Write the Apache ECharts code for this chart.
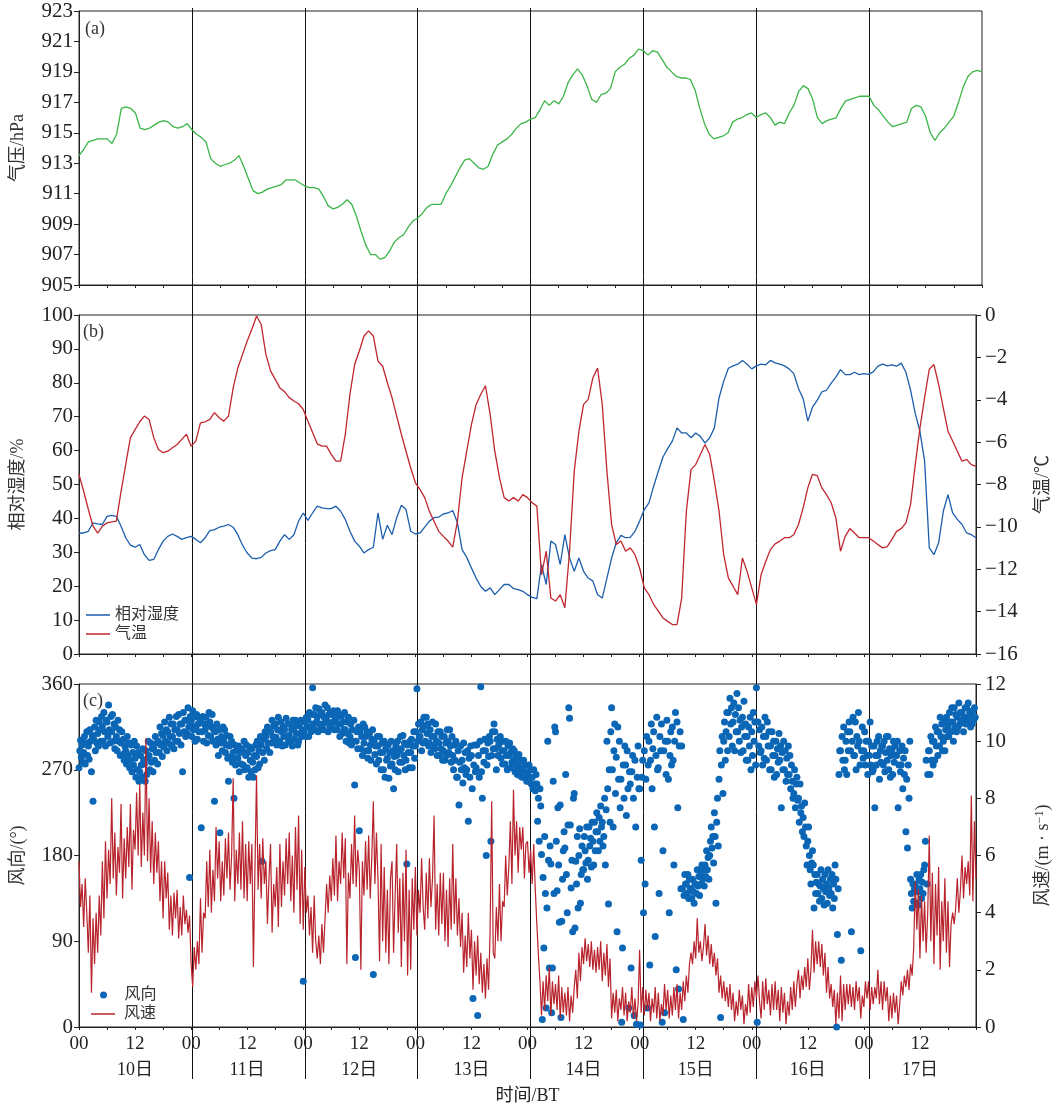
<!DOCTYPE html>
<html>
<head>
<meta charset="utf-8">
<script src="https://cdn.jsdelivr.net/npm/echarts@6/dist/echarts.min.js"></script>
<style>
html,body{margin:0;padding:0;background:#fff;}
#chart{width:1060px;height:1107px;}
</style>
</head>
<body>
<div id="chart"></div>
<script>
// hourly pressure (hPa), hour 0 of 10th to hour 0 of 18th
const pressure = [
913.5,913.9,914.4,914.5,914.6,914.6,914.6,914.3,914.9,916.6,916.7,916.6,916.3,915.3,915.2,915.3,915.5,915.7,915.8,915.7,915.4,915.3,915.4,915.6,
915.2,914.9,914.7,914.4,913.3,913.0,912.8,912.9,913.0,913.2,913.5,912.8,912.0,911.2,911.0,911.1,911.3,911.4,911.5,911.6,911.9,911.9,911.9,911.7,
911.5,911.4,911.4,911.3,910.8,910.2,910.0,910.1,910.3,910.6,910.3,909.5,908.5,907.6,907.0,907.0,906.7,906.8,907.2,907.8,908.1,908.3,908.8,909.2,
909.4,909.7,910.1,910.3,910.3,910.3,911.0,911.5,912.1,912.7,913.2,913.3,913.0,912.7,912.6,912.8,913.6,914.2,914.4,914.6,914.9,915.3,915.6,915.7,
915.9,916.0,916.5,917.1,916.8,917.1,916.9,917.4,918.3,918.8,919.2,918.8,918.1,917.2,917.0,917.5,917.6,917.9,919.0,919.3,919.5,919.9,920.1,920.5,
920.4,920.1,920.4,920.3,919.8,919.3,919.0,918.7,918.6,918.6,918.5,917.8,916.6,915.6,914.9,914.6,914.7,914.8,915.0,915.7,915.9,916.0,916.2,916.3,
916.0,916.2,916.3,916.0,915.5,915.7,915.6,916.3,916.8,917.7,918.1,917.9,917.2,916.0,915.6,915.8,915.9,916.0,916.6,917.1,917.2,917.3,917.4,917.4,
917.4,916.8,916.5,916.1,915.7,915.4,915.5,915.6,915.7,916.6,916.8,916.7,916.1,915.0,914.5,915.0,915.3,915.7,916.1,917.0,918.0,918.7,919.0,919.1,
919.0
];
// hourly relative humidity (%)
const humidity = [
35.7,35.7,36.2,38.7,38.4,38.2,40.6,40.9,40.6,37.7,34.3,32.1,31.5,32.3,29.3,27.6,27.9,30.8,33.3,34.7,35.4,34.7,33.8,34.3,
34.7,33.8,32.8,34.3,36.4,36.7,37.4,37.7,38.2,37.4,35.2,32.1,29.8,28.3,28.1,28.5,29.8,30.5,30.8,33.3,35.2,33.8,35.2,39.2,
41.6,39.4,41.6,43.6,43.1,42.9,42.9,43.6,42.1,39.7,36.2,33.3,31.8,29.8,30.8,31.5,41.6,33.8,38.0,35.2,40.2,43.9,42.6,36.2,
35.4,35.7,37.4,39.2,40.2,40.4,41.3,41.6,42.3,38.7,30.8,28.5,25.4,22.4,19.9,18.5,19.5,17.5,19.0,20.5,20.5,19.3,19.0,18.5,
17.5,16.7,16.3,26.4,20.5,33.3,32.3,26.4,35.2,28.3,24.4,28.3,24.4,22.4,21.5,17.5,16.5,22.4,28.3,32.8,35.0,34.3,34.4,36.2,
39.2,42.6,44.6,49.5,53.9,58.1,60.6,62.8,66.7,65.2,65.2,63.8,65.2,64.2,62.2,63.8,66.7,75.6,80.5,84.3,85.0,85.5,86.6,85.5,
84.1,85.0,85.5,85.3,86.6,85.9,85.5,85.0,84.1,82.7,78.3,75.3,68.7,72.8,74.8,77.3,77.8,79.9,81.7,83.9,82.4,82.4,83.1,82.4,
82.7,82.5,83.2,84.9,85.5,85.0,85.3,84.9,85.8,83.1,77.8,70.9,65.7,56.9,31.3,29.3,32.8,42.1,47.0,41.6,39.7,38.2,35.7,35.2,
34.3
];
// hourly air temperature (°C)
const temperature = [
-7.52,-8.32,-9.18,-9.97,-10.29,-9.97,-9.81,-9.76,-9.73,-8.32,-7.06,-5.79,-5.41,-5.04,-4.77,-4.93,-5.79,-6.35,-6.50,-6.43,-6.27,-6.11,-5.87,-5.63,
-6.19,-5.95,-5.09,-5.04,-4.93,-4.61,-4.85,-5.01,-4.77,-3.44,-2.50,-1.86,-1.23,-0.67,-0.05,-0.45,-1.86,-2.64,-3.04,-3.44,-3.62,-3.90,-4.06,-4.19,
-4.46,-5.01,-5.55,-6.08,-6.19,-6.19,-6.58,-6.90,-6.90,-5.63,-3.74,-2.34,-1.70,-0.99,-0.75,-0.99,-2.18,-2.42,-3.20,-3.90,-4.77,-5.63,-6.43,-7.22,
-7.92,-8.24,-8.62,-9.26,-9.73,-10.21,-10.45,-10.67,-10.96,-9.73,-7.68,-6.43,-5.17,-4.22,-3.74,-3.34,-4.69,-6.43,-7.68,-8.62,-8.78,-8.62,-8.78,-8.48,
-8.62,-8.86,-9.02,-12.26,-11.15,-13.36,-13.50,-13.20,-13.82,-11.15,-7.38,-5.49,-4.22,-3.98,-2.96,-2.50,-4.22,-7.38,-9.89,-10.83,-10.67,-11.15,-10.99,-11.31,
-11.94,-12.88,-13.20,-13.66,-13.98,-14.30,-14.46,-14.61,-14.61,-13.36,-9.26,-7.30,-7.06,-6.58,-6.11,-6.58,-7.84,-9.26,-11.31,-12.42,-12.80,-13.20,-11.47,-12.10,
-12.88,-13.66,-12.26,-11.62,-11.07,-10.80,-10.67,-10.51,-10.51,-10.37,-9.89,-9.10,-8.16,-7.52,-7.58,-8.16,-8.48,-8.86,-9.57,-11.15,-10.45,-10.08,-10.29,-10.51,
-10.51,-10.51,-10.67,-10.83,-10.99,-10.93,-10.59,-10.21,-10.08,-9.81,-8.94,-7.06,-5.33,-3.90,-2.56,-2.34,-3.28,-4.38,-5.49,-5.95,-6.43,-6.90,-6.82,-7.06,
-7.14
];
// wind direction (deg), six readings per hour (10-minute)
const windDir = [
272,290,301,283,296,278, 288,305,276,298,310,285, 295,281,312,300,268,306, 237,302,315,290,322,298, 308,295,320,312,300,326, 316,300,330,310,295,322,
320,305,338,312,298,326, 310,328,300,318,292,315, 305,290,322,300,312,285, 298,310,286,302,280,295, 290,276,305,285,298,272, 280,296,268,288,275,300,
282,262,295,270,288,258, 268,285,275,262,292,280, 276,258,290,265,282,300, 285,270,298,278,292,268, 292,280,305,288,298,276, 300,288,315,296,308,284,
306,294,320,300,312,290, 310,298,325,305,318,295, 305,318,292,312,300,326, 312,300,328,308,318,296, 318,268,330,310,322,305, 322,308,335,315,157,326,
320,305,332,312,325,300, 315,328,302,318,310,325, 322,209,310,326,300,318, 312,325,298,318,306,330, 320,305,315,328,300,312, 237,310,296,318,302,285,
312,204,298,305,290,315, 300,312,288,296,306,282, 258,295,305,284,300,278, 288,240,296,275,290,282, 282,295,268,288,276,292, 290,275,300,270,285,296,
272,288,262,294,280,268, 292,278,262,285,270,296, 284,300,272,290,276,305, 296,174,288,302,280,310, 305,292,315,298,310,288, 310,298,322,305,316,300,
318,304,296,312,325,300, 300,320,310,295,315,305, 312,296,324,305,318,300, 306,318,300,312,295,322, 314,302,322,308,318,296, 300,316,308,322,305,312,
48,310,320,305,325,315, 322,305,330,315,310,328, 356,318,328,312,335,320, 325,310,334,318,328,315, 330,318,312,325,338,320, 322,335,310,328,316,330,
316,328,320,332,312,325, 324,312,332,318,328,305, 318,326,308,320,312,330, 312,300,320,308,325,298, 305,318,296,312,300,322, 254,73,300,310,292,315,
206,310,292,305,285,318, 298,315,305,290,310,282, 290,308,296,280,302,312, 55,300,286,295,276,305, 295,280,305,288,270,298, 288,270,300,262,292,280,
282,296,261,288,274,300, 276,290,250,284,270,295, 285,300,268,290,278,305, 292,278,306,285,298,270, 280,171,296,288,272,300, 288,302,272,295,310,282,
295,310,355,300,318,305, 305,320,290,312,298,325, 316,300,325,308,318,295, 298,312,288,305,320,295, 305,292,318,300,285,310, 298,285,310,292,305,280,
290,305,280,298,285,312, 300,288,312,295,278,305, 285,270,296,280,300,262, 262,290,233,278,295,270, 280,256,298,272,288,265, 270,290,216,282,262,295,
285,250,30,275,296,268, 272,296,12,285,262,300, 357,268,240,290,278,302, 290,180,275,298,284,305, 300,195,285,310,292,318, 310,292,270,302,285,296,
298,305,282,290,276,300, 290,276,300,285,270,295, 285,298,272,288,278,292, 280,290,268,284,274,265, 276,286,264,280,270,262, 272,280,262,275,266,258,
268,258,275,262,270,255, 262,250,270,255,248,265, 255,216,240,195,250,232, 181,8,157,83,200,140, 20,125,300,175,62,190, 171,15,62,258,140,315,
310,195,143,230,170,110, 233,10,111,155,185,205, 188,265,160,120,212,335, 324,212,146,175,100,240, 245,104,174,150,200,125, 180,208,130,160,190,165,
165,200,185,172,210,155, 175,210,190,198,168,215, 195,170,215,185,205,225, 205,185,220,195,232,210, 215,190,200,240,170,228, 300,250,129,270,215,310,
335,270,210,290,318,245, 283,100,315,260,300,230, 260,5,83,275,240,295, 275,222,290,250,20,268, 255,62,268,285,240,12, 280,210,3,262,295,250,
250,2,175,262,280,120, 290,150,260,305,20,275, 300,65,280,318,250,292, 310,210,95,285,325,270, 272,140,305,290,318,5, 185,290,15,300,265,322,
300,260,120,285,310,275, 315,280,170,300,330,60, 320,230,40,295,310,145, 295,145,8,138,160,150, 150,140,160,135,155,145, 145,135,155,142,130,150,
150,140,165,148,158,138, 160,150,170,155,165,148, 170,158,185,165,178,155, 180,195,210,188,200,172, 225,200,130,215,240,190, 260,290,10,275,305,245,
300,320,280,310,330,290, 330,305,345,318,335,295, 320,340,290,328,310,350, 310,335,300,322,288,315, 325,290,342,305,318,280, 305,280,315,295,325,270,
310,285,330,300,320,275, 356,5,320,295,312,288, 290,315,275,305,282,325, 305,280,320,295,310,270, 295,270,310,285,300,262, 285,300,265,292,278,308,
280,295,230,288,270,300, 270,290,258,282,265,295, 265,285,250,275,258,240, 245,270,230,255,262,238, 240,215,255,225,232,205, 220,200,235,210,190,170,
195,210,180,165,150,172, 185,170,125,160,140,152, 160,140,150,132,148,165, 135,155,145,128,160,142, 150,130,165,145,138,155, 140,160,125,150,135,170,
155,0,97,145,265,290, 290,70,305,280,315,270, 280,300,265,310,290,320, 310,290,100,300,325,285, 285,320,270,305,295,330, 300,275,80,290,315,282,
290,310,275,300,285,265, 300,285,320,275,295,268, 270,295,230,285,275,300, 285,305,260,290,278,295, 295,275,300,268,288,305, 280,305,270,292,262,285,
290,265,300,278,295,285, 285,300,230,275,290,268, 275,295,250,282,265,290, 205,260,188,275,240,300, 155,140,125,150,132,145, 150,130,160,142,128,155,
145,160,135,152,140,165, 170,195,280,150,265,290, 290,265,305,280,300,275, 300,280,315,295,310,285, 310,295,325,305,318,290, 300,320,290,312,325,305,
315,305,330,320,310,335, 320,300,335,315,328,310, 325,315,340,318,330,322, 330,320,310,325,335,318, 335,325,340,322,330,315, 328,318,332,322,335,325
];
// wind speed (m/s), three readings per hour, last value at hour 192
const windSpeed = [
5.8,4.2,5.0, 3.5,5.2,4.0, 2.6,4.6,1.2, 3.8,2.2,4.0, 2.6,4.6,3.2, 5.8,3.8,6.5, 4.5,6.2,5.0, 8.0,5.2,6.8, 4.6,6.3,5.4, 7.8,4.5,6.6, 5.2,7.0,5.6, 7.8,4.8,6.9,
6.2,8.2,6.0, 8.5,5.6,7.5, 6.0,10.1,5.8, 8.0,5.4,7.2, 5.0,6.8,5.4, 6.5,4.4,5.8, 3.8,5.8,4.5, 5.4,3.4,4.6, 3.2,4.7,3.8, 4.8,3.1,4.2, 3.2,4.6,3.6, 4.1,3.3,3.9,
2.2,1.4,2.8, 2.0,3.0,2.2, 4.5,2.6,4.0, 3.8,5.8,4.2, 6.2,4.0,5.5, 4.4,7.0,5.2, 6.5,4.4,5.8, 4.6,6.6,5.2, 6.8,4.8,6.0, 8.7,4.4,6.2, 5.0,6.8,4.8, 7.2,4.5,6.4,
4.4,6.5,5.0, 6.4,2.1,5.6, 8.8,4.8,6.4, 4.5,6.6,5.0, 5.8,3.6,5.2, 6.4,3.3,5.0, 4.2,5.6,3.5, 6.4,4.2,5.8, 4.6,6.6,5.0, 6.8,4.4,6.0, 4.0,7.0,4.8, 7.4,3.6,6.2,
3.4,5.6,4.0, 4.6,3.2,4.2, 2.6,4.6,3.0, 2.4,3.2,2.2, 3.6,2.6,3.8, 5.0,4.0,5.3, 4.4,5.9,4.6, 6.7,4.4,5.8, 5.0,6.8,5.2, 6.6,2.2,5.4, 4.5,6.4,5.0, 7.4,4.9,6.2,
5.5,2.0,5.8, 4.6,6.5,4.8, 6.7,4.5,5.9, 7.9,5.0,6.8, 5.2,2.3,6.4, 3.0,5.6,2.6, 4.8,2.2,5.2, 5.8,2.6,4.6, 6.4,3.3,5.2, 2.1,5.4,3.0, 6.2,1.8,4.8, 2.0,5.2,3.4,
5.6,3.2,4.8, 4.0,5.9,4.2, 3.4,5.4,3.8, 5.9,4.2,5.2, 7.4,3.4,5.0, 3.2,5.4,3.6, 5.4,3.0,4.8, 2.8,5.2,3.4, 6.4,3.6,5.2, 3.2,4.5,2.8, 4.0,1.9,3.2, 2.1,4.0,2.4,
3.4,1.3,3.0, 1.8,3.2,1.5, 2.6,1.2,2.2, 1.0,2.4,1.3, 3.4,7.9,2.6, 2.4,4.2,3.0, 5.0,3.0,4.4, 4.2,6.0,4.6, 5.6,7.2,5.0, 8.3,6.0,7.2, 5.4,7.0,6.2, 7.0,5.2,6.4,
6.5,5.4,6.2, 5.0,6.4,4.8, 3.6,2.5,1.6, 0.4,1.6,0.6, 1.8,0.9,2.1, 0.4,1.6,0.8, 1.5,0.6,1.8, 0.3,1.4,0.5, 1.2,0.4,1.4, 0.2,1.1,0.5, 1.4,2.0,1.0, 2.6,1.6,2.8,
2.2,3.1,2.3, 2.9,2.1,3.0, 2.0,2.7,1.9, 2.8,2.0,3.0, 1.6,2.6,1.8, 2.9,1.4,2.4, 0.3,1.2,0.5, 1.3,0.2,1.0, 0.6,1.4,0.4, 1.2,0.2,0.9, 0.5,1.4,0.3, 1.0,0.2,0.8,
2.7,0.5,1.4, 0.4,1.3,0.6, 1.2,0.2,1.0, 0.5,1.4,0.3, 1.2,0.2,0.8, 0.4,1.5,0.6, 1.3,0.3,1.1, 0.4,1.4,0.6, 1.5,0.3,1.2, 0.6,1.6,0.9, 1.8,1.2,2.2, 2.6,2.2,3.0,
2.4,3.8,2.6, 3.0,2.3,2.8, 3.6,2.5,3.2, 2.2,2.9,2.1, 2.6,1.8,2.4, 1.2,1.8,1.0, 1.6,0.9,1.4, 0.7,1.5,0.6, 1.2,0.2,0.9, 0.4,1.3,0.6, 1.1,0.1,0.8, 0.4,1.5,0.5,
1.4,0.7,1.6, 1.0,1.8,0.9, 0.3,1.6,0.6, 1.7,0.8,1.3, 0.4,1.5,0.6, 1.6,0.6,1.3, 0.2,1.4,0.5, 1.2,0.1,0.9, 0.4,1.4,0.6, 1.6,0.7,1.5, 2.0,1.0,1.8, 1.3,2.1,1.4,
2.4,1.3,2.0, 3.4,1.9,3.0, 2.2,3.0,2.1, 2.9,1.8,2.6, 1.2,2.1,1.0, 1.5,0.7,1.3, 0.1,1.2,0.3, 1.8,0.2,1.5, 0.6,1.5,0.8, 1.5,0.7,1.4, 0.6,1.6,0.9, 1.4,0.3,1.1,
0.7,1.6,1.0, 1.6,0.6,1.4, 0.8,1.4,1.0, 2.0,0.8,1.6, 0.6,1.6,0.9, 1.4,0.2,1.1, 0.3,1.2,0.5, 1.1,0.1,0.8, 1.6,1.1,1.8, 1.4,2.0,1.3, 2.2,1.8,2.8, 5.1,3.4,4.8,
2.4,4.6,3.0, 4.4,2.6,4.0, 6.7,3.0,5.4, 2.2,5.0,3.2, 5.6,2.0,4.4, 3.0,5.2,2.6, 4.4,2.1,3.6, 4.0,3.6,4.2, 5.2,4.0,4.8, 6.0,4.5,5.6, 5.0,5.8,4.6, 8.1,4.4,7.2,
5.2
];
const dayNames = ['10日','11日','12日','13日','14日','15日','16日','17日'];
const hourTickNames = ['00','12'];

const SERIF = "'Liberation Serif','Noto Sans CJK SC',serif";
const INK = '#222';

const hourly = arr => arr.map((v, i) => [i, v]);
const perHour = (arr, n) => arr.map((v, i) => [i / n, v]);

const GL = 79, GR = 78;
const grids = [
  {left: GL, right: GR, top: 11, height: 274},
  {left: GL, right: GR, top: 315, height: 339},
  {left: GL, right: GR, top: 684, height: 343},
  {left: GL, right: GR, top: 8, bottom: 28}
].map(g => Object.assign({show: true, borderColor: INK, borderWidth: 1, backgroundColor: 'transparent', containLabel: false}, g));
grids[3].show = false;

function hourAxis(gridIndex, showLabels) {
  return {
    type: 'value', gridIndex, min: 0, max: 192, interval: 6,
    axisLine: {show: true, onZero: false, lineStyle: {color: INK, width: 1}},
    axisTick: {show: true, inside: false, length: 3, lineStyle: {color: INK}},
    splitLine: {show: false},
    axisLabel: {
      show: showLabels, margin: 8, color: INK, fontFamily: SERIF, fontSize: 19,
      formatter: v => (v >= 192 ? '' : (v % 24 === 0 ? hourTickNames[0] : (v % 24 === 12 ? hourTickNames[1] : '')))
    }
  };
}

const xAxes = [
  hourAxis(0, false),
  hourAxis(1, false),
  hourAxis(2, true),
  {
    type: 'value', gridIndex: 2, min: 0, max: 192, interval: 12, position: 'bottom', offset: 26,
    axisLine: {show: false}, axisTick: {show: false}, splitLine: {show: false},
    axisLabel: {show: true, margin: 8, color: INK, fontFamily: SERIF, fontSize: 18,
      formatter: v => (v % 24 === 12 ? dayNames[(v - 12) / 24] : '')},
    name: '时间/BT', nameLocation: 'middle', nameGap: 34,
    nameTextStyle: {color: INK, fontFamily: SERIF, fontSize: 18}
  },
  {
    type: 'value', gridIndex: 3, min: 0, max: 192, interval: 24,
    axisLine: {show: false}, axisTick: {show: false}, axisLabel: {show: false},
    splitLine: {show: true, showMinLine: false, showMaxLine: false, lineStyle: {color: '#111', width: 1}}
  }
];

function valAxis(gridIndex, pos, min, max, interval, name, gap, fmt, rich) {
  return {
    type: 'value', gridIndex, position: pos, min, max, interval,
    axisLine: {show: true, onZero: false, lineStyle: {color: INK, width: 1}},
    axisTick: {show: true, inside: false, length: 5, lineStyle: {color: INK}},
    splitLine: {show: false},
    axisLabel: {color: INK, fontFamily: SERIF, fontSize: 21, margin: pos === 'left' ? 6 : 9, formatter: fmt},
    name, nameLocation: 'middle', nameGap: gap, nameRotate: 90,
    nameTextStyle: Object.assign({color: '#333', fontFamily: SERIF, fontSize: 18}, rich ? {rich} : {})
  };
}
const minusFmt = v => String(v).replace('-', '\u2212');
const yAxes = [
  valAxis(0, 'left', 905, 923, 2, '气压/hPa', 52),
  valAxis(1, 'left', 0, 100, 10, '相对湿度/%', 52),
  valAxis(1, 'right', -16, 0, 2, '气温/℃', 58, minusFmt),
  valAxis(2, 'left', 0, 360, 90, '风向/(°)', 52),
  valAxis(2, 'right', 0, 12, 2, '风速/(m · s{sup|\u22121})', 58, null,
    {sup: {fontSize: 12, fontFamily: SERIF, color: '#333', verticalAlign: 'top', lineHeight: 12}}),
  {type: 'value', gridIndex: 3, min: 0, max: 1, show: false}
];

const legendText = {fontFamily: SERIF, fontSize: 16, color: '#333', lineHeight: 16};
const legendPadText = Object.assign({padding: [0, 0, 0, 4]}, legendText);
const option = {
  animation: false,
  backgroundColor: '#fff',
  textStyle: {fontFamily: SERIF},
  grid: grids,
  xAxis: xAxes,
  yAxis: yAxes,
  title: [
    {text: '(a)', left: 80, top: 15, textStyle: {fontFamily: SERIF, fontWeight: 'normal', fontSize: 18, color: '#333'}},
    {text: '(b)', left: 78, top: 318, textStyle: {fontFamily: SERIF, fontWeight: 'normal', fontSize: 18, color: '#333'}},
    {text: '(c)', left: 78, top: 687, textStyle: {fontFamily: SERIF, fontWeight: 'normal', fontSize: 18, color: '#333'}}
  ],
  legend: [
    {data: [{name: '相对湿度', icon: 'rect'}, {name: '气温', icon: 'rect'}], orient: 'vertical', left: 86, top: 607,
      padding: 0, itemWidth: 24, itemHeight: 1.5, itemGap: 3, selectedMode: false, textStyle: legendText},
    {data: [{name: '风向', icon: 'circle'}], orient: 'vertical', left: 100, top: 987, padding: 0,
      itemWidth: 24, itemHeight: 7, selectedMode: false, textStyle: legendPadText},
    {data: [{name: '风速', icon: 'rect'}], orient: 'vertical', left: 91, top: 1006, padding: 0,
      itemWidth: 24, itemHeight: 1.5, selectedMode: false, textStyle: legendPadText}
  ],
  series: [
    {name: '气压', type: 'line', xAxisIndex: 0, yAxisIndex: 0, data: hourly(pressure), symbol: 'none',
      lineStyle: {color: '#3cb548', width: 1.3}, itemStyle: {color: '#3cb548'}},
    {name: '相对湿度', type: 'line', xAxisIndex: 1, yAxisIndex: 1, data: hourly(humidity), symbol: 'none',
      lineStyle: {color: '#1c5eac', width: 1.3}, itemStyle: {color: '#1c5eac'}},
    {name: '气温', type: 'line', xAxisIndex: 1, yAxisIndex: 2, data: hourly(temperature), symbol: 'none',
      lineStyle: {color: '#c0262e', width: 1.3}, itemStyle: {color: '#c0262e'}},
    {name: '风向', type: 'scatter', xAxisIndex: 2, yAxisIndex: 3, data: perHour(windDir, 6), symbol: 'circle',
      symbolSize: 7, itemStyle: {color: '#0b66b6', opacity: 1}, z: 2},
    {name: '风速', type: 'line', xAxisIndex: 2, yAxisIndex: 4, data: perHour(windSpeed, 3), symbol: 'none',
      lineStyle: {color: '#b8232c', width: 1.2}, itemStyle: {color: '#b8232c'}, z: 3}
  ]
};

const chart = echarts.init(document.getElementById('chart'), null, {renderer: 'canvas'});
chart.setOption(option);
</script>
</body>
</html>
